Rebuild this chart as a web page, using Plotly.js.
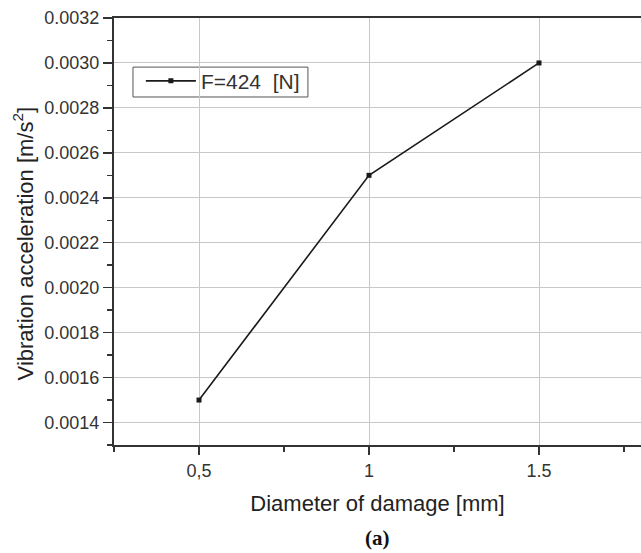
<!DOCTYPE html>
<html>
<head>
<meta charset="utf-8">
<script src="https://cdn.plot.ly/plotly-3.0.1.min.js"></script>
<style>html,body{margin:0;padding:0;background:#fff;}#chart{width:641px;height:553px;}</style>
</head>
<body>
<div id="chart"></div>
<script>
const diameters = [0.5, 1, 1.5];
const acceleration = [0.0015, 0.0025, 0.0030];
const seriesName = "F=424  [N]";
const xTickVals = [0.5, 1, 1.5];
const xTickText = ["0,5", "1", "1.5"];
const xMinorVals = [0.25, 0.75, 1.25, 1.75];

const font = "Arial, 'Liberation Sans', sans-serif";

const trace = {
  x: diameters,
  y: acceleration,
  type: "scatter",
  mode: "lines+markers",
  name: seriesName,
  line: {color: "#1a1a1a", width: 1.6},
  marker: {symbol: "square", size: 5, color: "#1a1a1a"}
};

const layout = {
  width: 641,
  height: 553,
  margin: {l: 114, r: 0, t: 18, b: 108},
  paper_bgcolor: "#fff",
  plot_bgcolor: "#fff",
  font: {family: font, color: "#333", size: 18},
  showlegend: true,
  legend: {
    x: 0.051, y: 0.852, xanchor: "left", yanchor: "middle",
    borderwidth: 0, bgcolor: "rgba(0,0,0,0)",
    font: {family: font, size: 21, color: "#333"},
    itemwidth: 50
  },
  shapes: [{
    type: "rect", xref: "paper", yref: "paper",
    x0: 0.036, x1: 0.368, y0: 0.815, y1: 0.885,
    line: {color: "#555", width: 1}, fillcolor: "#fff", layer: "below"
  }],
  xaxis: {
    range: [0.25, 1.8],
    tickvals: xTickVals,
    ticktext: xTickText,
    ticks: "outside", ticklen: 8, tickwidth: 1.5, tickcolor: "#333",
    showline: true, linecolor: "#333", linewidth: 2, mirror: true,
    showgrid: true, gridcolor: "#c8c8c8", gridwidth: 1,
    zeroline: false, layer: "above traces",
    tickfont: {family: font, size: 18, color: "#333"},
    minor: {tickvals: xMinorVals, ticks: "outside", ticklen: 5, tickwidth: 1.5, tickcolor: "#333", showgrid: false},
    title: {text: "Diameter of damage [mm]", font: {family: font, size: 22, color: "#222"}, standoff: 16}
  },
  yaxis: {
    range: [0.0013, 0.0032],
    tick0: 0, dtick: 0.0002,
    tickformat: ".4f",
    ticks: "outside", ticklen: 9, tickwidth: 1.5, tickcolor: "#333",
    showline: true, linecolor: "#333", linewidth: 2, mirror: false,
    showgrid: true, gridcolor: "#c8c8c8", gridwidth: 1,
    zeroline: false,
    tickfont: {family: font, size: 18, color: "#333"},
    minor: {dtick: 0.0001, ticks: "outside", ticklen: 5, tickwidth: 1.5, tickcolor: "#333", showgrid: false}
  },
  annotations: [{
    text: "Vibration acceleration [m/s<sup>2</sup>]",
    xref: "paper", yref: "paper", x: -0.172, y: 0.473,
    xanchor: "center", yanchor: "middle", textangle: -90, showarrow: false,
    font: {family: font, size: 22, color: "#222"}
  }, {
    text: "<b>(a)</b>", xref: "paper", yref: "paper", x: 0.5, y: -0.218,
    xanchor: "center", yanchor: "middle", showarrow: false,
    font: {family: "'Times New Roman', 'Liberation Serif', serif", size: 21, color: "#111"}
  }]
};

Plotly.newPlot("chart", [trace], layout, {displayModeBar: false, staticPlot: true});
</script>
</body>
</html>
